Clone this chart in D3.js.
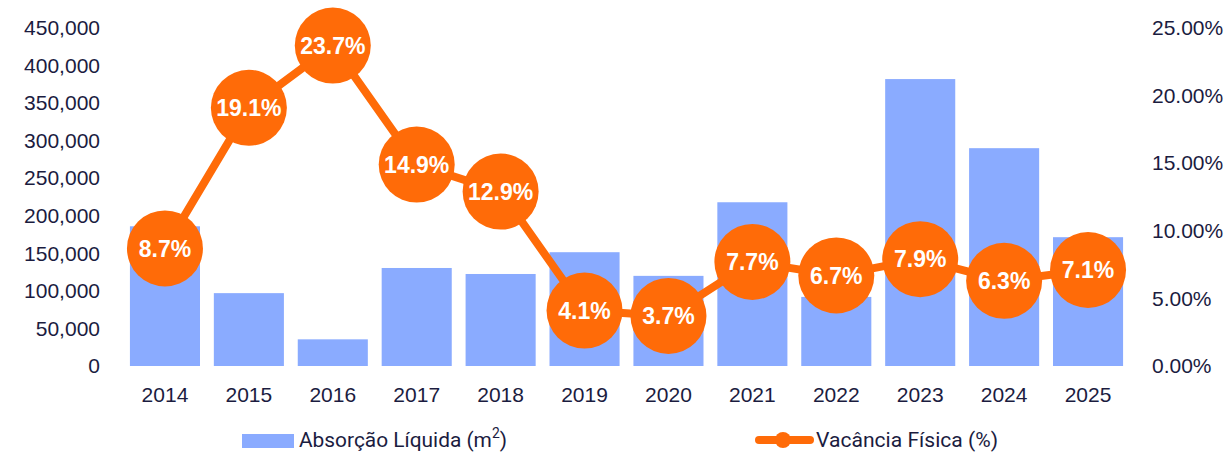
<!DOCTYPE html>
<html>
<head>
<meta charset="utf-8">
<script src="https://cdn.jsdelivr.net/npm/d3@7"></script>
<style>
  body { margin: 0; background: #fff; }
  svg text { font-family: "Liberation Sans", Arial, sans-serif; }
</style>
</head>
<body>
<script>
// chart data
var years = ["2014","2015","2016","2017","2018","2019","2020","2021","2022","2023","2024","2025"];
var absorcao = [186000, 97000, 35500, 130500, 122500, 151500, 120000, 218000, 92000, 382000, 290000, 171500];
var vacancia = [8.7, 19.1, 23.7, 14.9, 12.9, 4.1, 3.7, 7.7, 6.7, 7.9, 6.3, 7.1];
var leftTicks = [0, 50000, 100000, 150000, 200000, 250000, 300000, 350000, 400000, 450000];
var rightTicks = [0, 5, 10, 15, 20, 25];

var width = 1230, height = 453;
var textColor = "#1b1c3f", barColor = "#8aabff", lineColor = "#ff6b08";

var svg = d3.select("body").append("svg")
    .attr("width", width)
    .attr("height", height);

// scales
var x = d3.scaleBand()
    .domain(years)
    .range([123, 1130])
    .paddingInner(0.165)
    .paddingOuter(0.0825);

var yLeft = d3.scaleLinear().domain([0, 450000]).range([366, 28]);
var yRight = d3.scaleLinear().domain([0, 25]).range([366, 28]);

// left axis
var leftAxis = svg.append("g")
    .attr("transform", "translate(108,0)")
    .call(d3.axisLeft(yLeft).tickValues(leftTicks).tickSize(0).tickPadding(8)
        .tickFormat(d3.format(",")));
leftAxis.select(".domain").remove();
leftAxis.selectAll("text").attr("fill", textColor).style("font-size", "21px");

// right axis
var rightAxis = svg.append("g")
    .attr("transform", "translate(1144,0)")
    .call(d3.axisRight(yRight).tickValues(rightTicks).tickSize(0).tickPadding(8)
        .tickFormat(function(d){ return d.toFixed(2) + "%"; }));
rightAxis.select(".domain").remove();
rightAxis.selectAll("text").attr("fill", textColor).style("font-size", "21px");

// x axis
var xAxis = svg.append("g")
    .attr("transform", "translate(0,377)")
    .call(d3.axisBottom(x).tickSize(0).tickPadding(10));
xAxis.select(".domain").remove();
xAxis.selectAll("text").attr("fill", textColor).style("font-size", "21px");

// bars
svg.selectAll(".bar")
    .data(years)
    .enter()
    .append("rect")
    .attr("class", "bar")
    .attr("x", function(d){ return x(d); })
    .attr("width", x.bandwidth())
    .attr("y", function(d, i){ return yLeft(absorcao[i]); })
    .attr("height", function(d, i){ return yLeft(0) - yLeft(absorcao[i]); })
    .attr("fill", barColor);

// line
var cx = function(d, i){ return x(years[i]) + x.bandwidth() / 2; };
var line = d3.line()
    .x(cx)
    .y(function(d){ return yRight(d); });

svg.append("path")
    .datum(vacancia)
    .attr("d", line)
    .attr("fill", "none")
    .attr("stroke", lineColor)
    .attr("stroke-width", 8)
    .attr("stroke-linejoin", "round");

var pts = svg.selectAll(".pt")
    .data(vacancia)
    .enter()
    .append("g")
    .attr("class", "pt")
    .attr("transform", function(d, i){ return "translate(" + cx(d, i) + "," + yRight(d) + ")"; });

pts.append("circle")
    .attr("r", 38)
    .attr("fill", lineColor);

pts.append("text")
    .attr("text-anchor", "middle")
    .attr("dy", "0.36em")
    .attr("fill", "#fff")
    .style("font-size", "23px")
    .style("font-weight", "bold")
    .text(function(d){ return d.toFixed(1) + "%"; });

// legend (nudged up a little so descenders stay inside the frame)
var legend = svg.append("g");
legend.append("rect")
    .attr("x", 242).attr("y", 434)
    .attr("width", 52).attr("height", 14)
    .attr("fill", barColor);
var t1 = legend.append("text")
    .attr("x", 299).attr("y", 447)
    .attr("fill", textColor)
    .attr("textLength", 208)
    .attr("lengthAdjust", "spacingAndGlyphs")
    .style("font-size", "21px")
    .style("font-family", "Roboto, sans-serif");
t1.append("tspan").text("Absorção Líquida (m");
t1.append("tspan").attr("dy", -9).style("font-size", "14px").text("2");
t1.append("tspan").attr("dy", 9).text(")");

legend.append("line")
    .attr("x1", 759).attr("x2", 810)
    .attr("y1", 440).attr("y2", 440)
    .attr("stroke", lineColor)
    .attr("stroke-width", 8)
    .attr("stroke-linecap", "round");
legend.append("circle")
    .attr("cx", 783).attr("cy", 440).attr("r", 8)
    .attr("fill", lineColor);
legend.append("text")
    .attr("x", 816).attr("y", 447)
    .attr("fill", textColor)
    .attr("textLength", 182)
    .attr("lengthAdjust", "spacingAndGlyphs")
    .style("font-size", "21px")
    .style("font-family", "Roboto, sans-serif")
    .text("Vacância Física (%)");
</script>
</body>
</html>
